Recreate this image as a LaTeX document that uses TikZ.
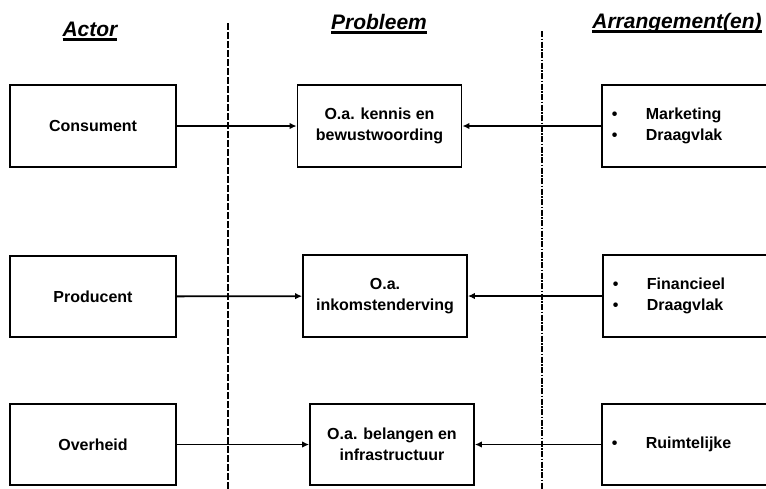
\documentclass[tikz,border=0pt]{standalone}
\usepackage{fontspec}
\setmainfont{Liberation Sans}
\usetikzlibrary{arrows.meta}
\newcommand\myul[1]{\setbox0\hbox{#1}\rlap{\vrule width\wd0 height -2.4pt depth 4.6pt}\box0}
\newcommand\bul[1]{\makebox[34pt][l]{•}#1}
\begin{document}
\begin{tikzpicture}[x=1pt,y=-1pt,
  every node/.style={font=\bfseries\fontsize{16}{21}\selectfont},
  box/.style={draw,line width=1.8pt,minimum height=82pt,inner sep=0pt,align=center},
  actorbox/.style={box,minimum width=166pt},
  probbox/.style={box,minimum width=164pt},
  arrbox/.style={draw,line width=1.8pt,minimum height=82pt,minimum width=170pt,text width=150pt,inner xsep=10pt,inner ysep=0pt,align=left,anchor=west},
  title/.style={font=\bfseries\itshape\fontsize{21}{25}\selectfont,anchor=base},
  conn/.style={line width=1.8pt,-{Latex[length=7pt,width=6.5pt]}},
  divA/.style={line width=1.6pt,dash pattern=on 7pt off 2pt},
  divB/.style={line width=1.6pt,dash pattern=on 6pt off 1.5pt on 1.5pt off 1.5pt}]
\useasboundingbox (0,0) rectangle (766,488);
% titles
\node[title] (tA) at (90,36) {\myul{Actor}};
\node[title] (tP) at (379,29) {\myul{Probleem}};
\node[title] (tR) at (677,28) {\myul{Arrangement(en)}};
% dividers
\coordinate (d1a) at (228,23);
\coordinate (d1b) at (228,490);
\coordinate (d2a) at (542,31);
\coordinate (d2b) at (542,490);
\draw[divA] (d1a) -- (d1b);
\draw[divB] (d2a) -- (d2b);
% row 1
\node[actorbox] (cons) at (93,126) {Consument};
\node[probbox] (kenn) at (379.5,126) {O.a. kennis en\\bewustwoording};
\node[arrbox] (mark) at (601,126) {\bul{Marketing}\\\bul{Draagvlak}};
% row 2
\node[actorbox,minimum height=81pt] (prod) at (93,296.5) {Producent};
\node[probbox] (inko) at (385,296) {O.a.\\inkomstenderving};
\node[arrbox] (fina) at (602,296) {\bul{Financieel}\\\bul{Draagvlak}};
% row 3
\node[actorbox,minimum height=81pt] (over) at (93,444.5) {Overheid};
\node[probbox,minimum height=81pt] (bela) at (392,444.5) {O.a. belangen en\\infrastructuur};
\node[arrbox,minimum height=81pt] (ruim) at (601,444.5) {\bul{Ruimtelijke}};
% connectors
\draw[conn] (cons) -- (kenn);
\draw[conn] (mark) -- (kenn);
\draw[conn] (prod) -- (inko);
\draw[conn] (fina) -- (inko);
\draw[conn] (over) -- (bela);
\draw[conn] (ruim) -- (bela);
\end{tikzpicture}
\end{document}
